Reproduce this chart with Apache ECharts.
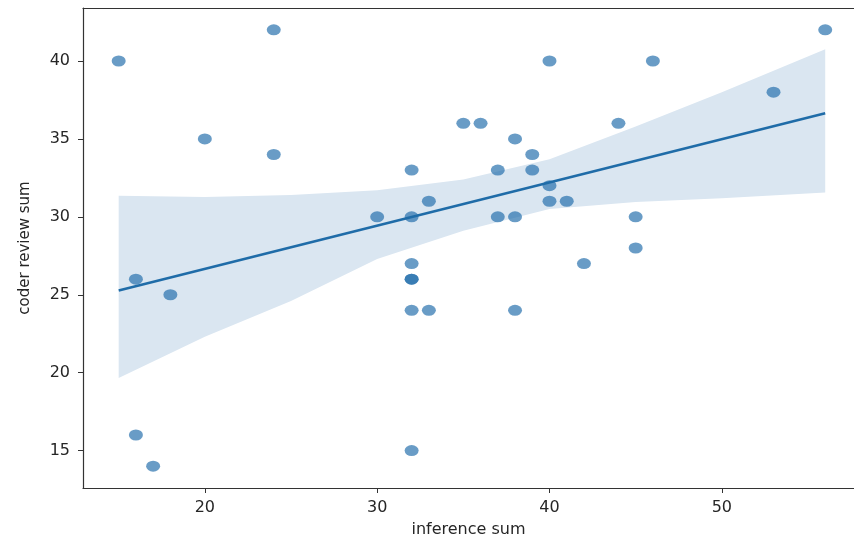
<!DOCTYPE html>
<html>
<head>
<meta charset="utf-8">
<script src="https://cdn.jsdelivr.net/npm/echarts@6/dist/echarts.min.js"></script>
<style>
  html, body { margin: 0; padding: 0; background: #fff; }
  #chart { width: 854px; height: 546px; }
</style>
</head>
<body>
<div id="chart"></div>
<script>
// scatter points (inference sum, coder review sum)
var inferenceSum = [15, 16, 16, 17, 18, 20, 24, 24, 30, 32, 32, 32, 32, 32, 32, 32, 33, 33, 35, 36, 37, 37, 38, 38, 38, 39, 39, 40, 40, 40, 41, 42, 44, 45, 45, 46, 53, 56]
var coderReviewSum = [40, 26, 16, 14, 25, 35, 42, 34, 30, 33, 30, 27, 26, 26, 24, 15, 31, 24, 36, 36, 33, 30, 35, 30, 24, 34, 33, 40, 32, 31, 31, 27, 36, 30, 28, 40, 38, 42]

// fitted line ends and confidence band
var fitX = [15, 56]
var fitY = [25.28, 36.65]
var bandX = [15, 20, 25, 30, 35, 40, 45, 50, 56]
var bandUpper = [31.35, 31.27, 31.4, 31.7, 32.4, 33.7, 35.8, 38.0, 40.75]
var bandLower = [19.66, 22.3, 24.6, 27.3, 29.1, 30.5, 30.95, 31.2, 31.56]

var xTicks = [20, 30, 40, 50]
var yTicks = [15, 20, 25, 30, 35, 40]

var points = inferenceSum.map(function (x, i) { return [x, coderReviewSum[i]] })
var lineData = fitX.map(function (x, i) { return [x, fitY[i]] })

var axisColor = '#333'
var labelColor = '#262626'

// 置信区间：上沿从左到右，下沿从右到左，拼成一个多边形
function renderBand(params, api) {
  if (params.dataIndex !== 0) return
  var pts = []
  for (var i = 0; i < bandX.length; i++) {
    pts.push(api.coord([bandX[i], bandUpper[i]]))
  }
  for (var j = bandX.length - 1; j >= 0; j--) {
    pts.push(api.coord([bandX[j], bandLower[j]]))
  }
  return {
    type: 'polygon',
    shape: { points: pts },
    style: { fill: '#dae6f1' }
  }
}

var chart = echarts.init(document.getElementById('chart'))
var option = {
  animation: false,
  grid: { left: 83, top: 8, right: 0, bottom: 58 },
  xAxis: [
    {
      type: 'value',
      min: 12.93,
      max: 57.67,
      name: 'inference sum',
      nameLocation: 'middle',
      nameGap: 34,
      nameTextStyle: { fontSize: 16, color: labelColor, fontFamily: 'DejaVu Sans' },
      splitLine: { show: false },
      axisLine: { lineStyle: { color: axisColor, width: 1.2 } },
      axisTick: { customValues: xTicks, length: 5, lineStyle: { color: axisColor } },
      axisLabel: { customValues: xTicks, fontSize: 16, margin: 12, color: labelColor, fontFamily: 'DejaVu Sans' }
    },
    {
      type: 'value',
      position: 'top',
      min: 12.93,
      max: 57.67,
      splitLine: { show: false },
      axisLine: { show: true, lineStyle: { color: axisColor, width: 1.2 } },
      axisTick: { show: false },
      axisLabel: { show: false }
    }
  ],
  yAxis: {
    type: 'value',
    min: 12.6,
    max: 43.4,
    name: 'coder review sum',
    nameLocation: 'middle',
    nameGap: 50,
    nameTextStyle: { fontSize: 15, color: labelColor, fontFamily: 'DejaVu Sans' },
    splitLine: { show: false },
    axisLine: { show: true, lineStyle: { color: axisColor, width: 1.2 } },
    axisTick: { show: true, customValues: yTicks, length: 5, lineStyle: { color: axisColor } },
    axisLabel: { customValues: yTicks, fontSize: 16, margin: 13, color: labelColor, fontFamily: 'DejaVu Sans' }
  },
  series: [
    {
      name: 'band',
      type: 'custom',
      renderItem: renderBand,
      data: [[bandX[0], bandUpper[0]]],
      clip: true,
      z: 1
    },
    {
      name: 'points',
      type: 'scatter',
      data: points,
      symbol: 'circle',
      symbolSize: [14, 11],
      itemStyle: { color: 'rgba(35,110,172,0.85)' },
      z: 3
    },
    {
      name: 'fit',
      type: 'line',
      data: lineData,
      symbol: 'none',
      lineStyle: { color: '#1f6ca8', width: 2.6 },
      z: 4
    }
  ]
}
chart.setOption(option)
</script>
</body>
</html>
